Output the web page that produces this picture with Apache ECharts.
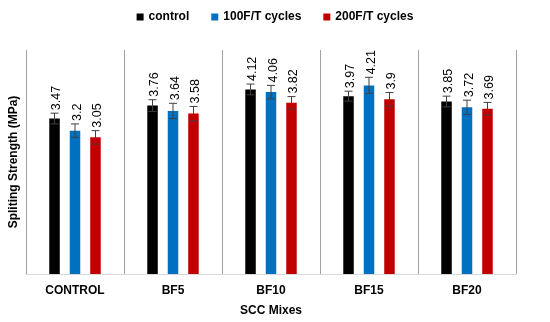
<!DOCTYPE html>
<html>
<head>
<meta charset="utf-8">
<script src="https://cdn.jsdelivr.net/npm/echarts@6/dist/echarts.min.js"></script>
<style>
html,body{margin:0;padding:0;background:#fff;}
#chart{width:550px;height:322px;}
</style>
</head>
<body>
<div id="chart"></div>
<script>
const categories = ['CONTROL', 'BF5', 'BF10', 'BF15', 'BF20'];
const seriesNames = ['control', '100F/T cycles', '200F/T cycles'];
const controlValues = [3.47, 3.76, 4.12, 3.97, 3.85];
const ft100Values = [3.2, 3.64, 4.06, 4.21, 3.72];
const ft200Values = [3.05, 3.58, 3.82, 3.9, 3.69];
const controlErr = [0.12, 0.13, 0.12, 0.11, 0.12];
const ft100Err = [0.15, 0.17, 0.15, 0.18, 0.16];
const ft200Err = [0.15, 0.16, 0.14, 0.15, 0.14];
const colors = ['#000000', '#0070C0', '#C00000'];

const allValues = [controlValues, ft100Values, ft200Values];
const allErr = [controlErr, ft100Err, ft200Err];
const FONT = '"Liberation Sans", Arial, sans-serif';
const BAR_W = 10.5;
const BAR_STEP = 20.5;

const chart = echarts.init(document.getElementById('chart'), null, {renderer: 'canvas'});

const series = [];
allValues.forEach((vals, i) => {
  series.push({
    name: seriesNames[i],
    type: 'bar',
    data: vals,
    barWidth: BAR_W,
    barGap: '95%',
    itemStyle: {color: colors[i]},
    emphasis: {disabled: true}
  });
});
allValues.forEach((vals, i) => {
  series.push({
    name: 'err' + i,
    type: 'custom',
    z: 5,
    silent: true,
    encode: {x: 0, y: 1},
    data: vals.map((v, c) => [c, v, allErr[i][c]]),
    renderItem: function (params, api) {
      const c = api.value(0), v = api.value(1), e = api.value(2);
      const off = (i - 1) * BAR_STEP;
      const px = api.coord([c, v])[0] + off;
      const yHi = api.coord([c, v + e])[1];
      const yLo = api.coord([c, v - e])[1];
      const cap = 4;
      const ls = {stroke: '#404040', lineWidth: 1};
      return {
        type: 'group',
        children: [
          {type: 'line', shape: {x1: px, y1: yHi, x2: px, y2: yLo}, style: ls},
          {type: 'line', shape: {x1: px - cap, y1: yHi, x2: px + cap, y2: yHi}, style: ls},
          {type: 'line', shape: {x1: px - cap, y1: yLo, x2: px + cap, y2: yLo}, style: ls},
          {type: 'text', x: px + 2.5, y: yHi - 3, rotation: Math.PI / 2,
           style: {text: String(v), fill: '#000', fontSize: 12.5, fontFamily: FONT,
                   align: 'left', verticalAlign: 'middle'}}
        ]
      };
    }
  });
});

chart.setOption({
  animation: false,
  backgroundColor: '#fff',
  legend: {
    data: seriesNames,
    top: 6,
    left: 'center',
    icon: 'rect',
    itemWidth: 7,
    itemHeight: 7,
    itemGap: 22,
    textStyle: {fontFamily: FONT, fontWeight: 'bold', fontSize: 12, color: '#000'}
  },
  grid: {left: 19, right: 34, top: 50, bottom: 47, containLabel: false},
  xAxis: {
    type: 'category',
    data: categories,
    name: 'SCC Mixes',
    nameLocation: 'middle',
    nameGap: 31,
    nameTextStyle: {fontFamily: FONT, fontWeight: 'bold', fontSize: 12, color: '#000', verticalAlign: 'top'},
    axisLine: {show: true, lineStyle: {color: '#d9d9d9', width: 1}},
    axisTick: {show: false},
    axisLabel: {fontFamily: FONT, fontWeight: 'bold', fontSize: 12, color: '#000', margin: 11},
    splitLine: {show: true, lineStyle: {color: '#a0a0a0', width: 1}}
  },
  yAxis: {
    type: 'value',
    min: 0,
    max: 5,
    interval: 1,
    name: 'Spliting Strength (MPa)',
    nameLocation: 'middle',
    nameGap: 6,
    nameTextStyle: {fontFamily: FONT, fontWeight: 'bold', fontSize: 12, color: '#000'},
    axisLine: {show: false},
    axisTick: {show: false},
    axisLabel: {show: false},
    splitLine: {show: false}
  },
  series: series
});
</script>
</body>
</html>
